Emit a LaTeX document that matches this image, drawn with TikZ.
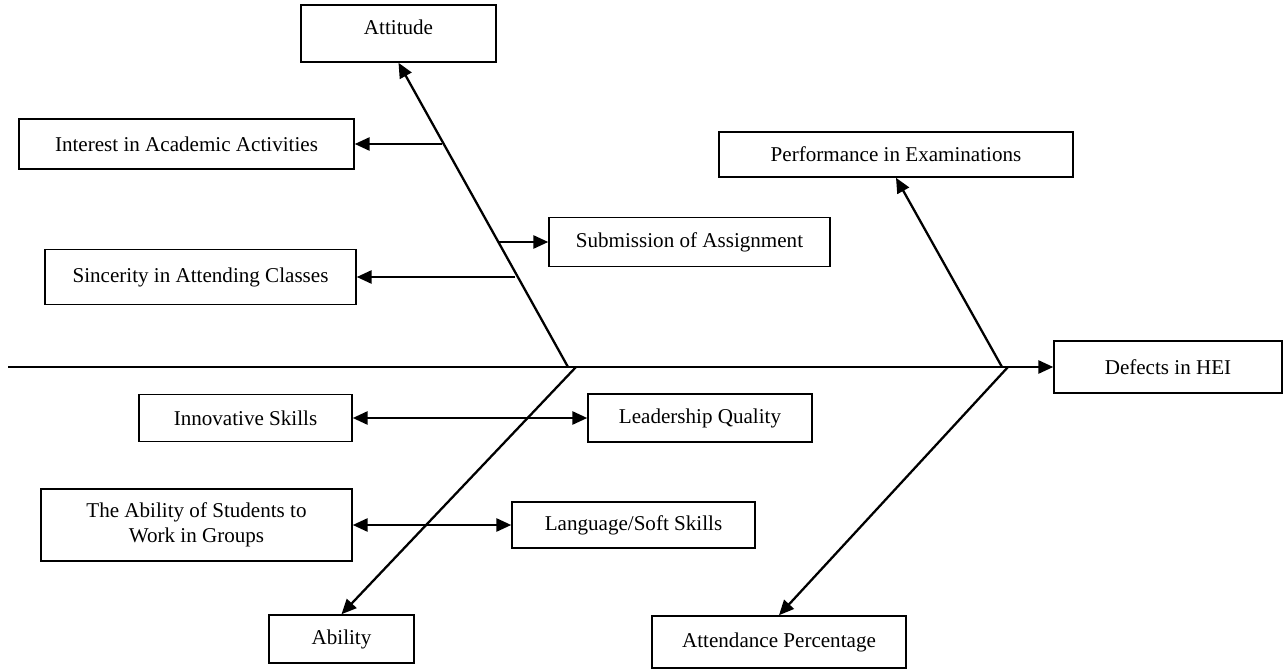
\documentclass[tikz,border=0pt]{standalone}
\usepackage{fontspec}
\setmainfont{Liberation Serif}
\usepackage{tikz}
\usetikzlibrary{arrows.meta}
\tikzset{
  causebox/.style={draw,line width=0.9pt,rectangle,inner sep=2pt,font=\fontsize{12}{14}\selectfont,align=center},
  bone/.style={line width=1.3pt}
}

\begin{document}
\begin{tikzpicture}[x=0.02cm,y=-0.02cm,>={Triangle[length=8.5pt,width=7.5pt]}]
  \useasboundingbox (0,0) rectangle (1286,669);
  % boxes
  \node[causebox,minimum width=3.9cm,minimum height=1.14cm,text depth=7pt] (att) at (398.5,33.5) {Attitude};
  \node[causebox,minimum width=6.7cm,minimum height=1.0cm] (int) at (186.5,144) {Interest in Academic Activities};
  \node[causebox,minimum width=5.62cm,minimum height=0.98cm] (sub) at (689.5,242) {Submission of Assignment};
  \node[causebox,minimum width=6.22cm,minimum height=1.1cm] (sin) at (200.5,277) {Sincerity in Attending Classes};
  \node[causebox,minimum width=7.08cm,minimum height=0.9cm] (perf) at (896,154.5) {Performance in Examinations};
  \node[causebox,minimum width=4.56cm,minimum height=1.04cm] (def) at (1168,367) {Defects in HEI};
  \node[causebox,minimum width=4.26cm,minimum height=0.94cm] (inn) at (245.5,418) {Innovative Skills};
  \node[causebox,minimum width=4.48cm,minimum height=0.96cm] (lead) at (700,418) {Leadership Quality};
  \node[causebox,minimum width=6.22cm,minimum height=1.44cm] (grp) at (196.5,525) {The Ability of Students to\\Work in Groups};
  \node[causebox,minimum width=4.86cm,minimum height=0.92cm] (lang) at (633.5,525) {Language/Soft Skills};
  \node[causebox,minimum width=2.9cm,minimum height=0.96cm] (abil) at (341.5,639) {Ability};
  \node[causebox,minimum width=5.08cm,minimum height=1.04cm] (attn) at (779,642) {Attendance Percentage};
  % spine and joints
  \coordinate (tail) at (8,367);
  \coordinate (j1) at (568,367);
  \coordinate (j2) at (576,367);
  \coordinate (j3) at (1002,367);
  \coordinate (j4) at (1008,367);
  \draw[bone,->] (tail) -- (def.west);
  \draw[bone,->] (j1) -- (att.south);
  \draw[bone,->] (j2) -- (abil.north);
  \draw[bone,->] (j3) -- (perf.south);
  \draw[bone,->] (j4) -- (attn.north);
  % small bones
  \coordinate (b1) at (442,144);
  \coordinate (b2) at (499,242);
  \coordinate (b3) at (515,277);
  \draw[bone,->] (b1) -- (int.east);
  \draw[bone,->] (b2) -- (sub.west);
  \draw[bone,->] (b3) -- (sin.east);
  \draw[bone,<->] (inn.east) -- (lead.west);
  \draw[bone,<->] (grp.east) -- (lang.west);
\end{tikzpicture}
\end{document}
